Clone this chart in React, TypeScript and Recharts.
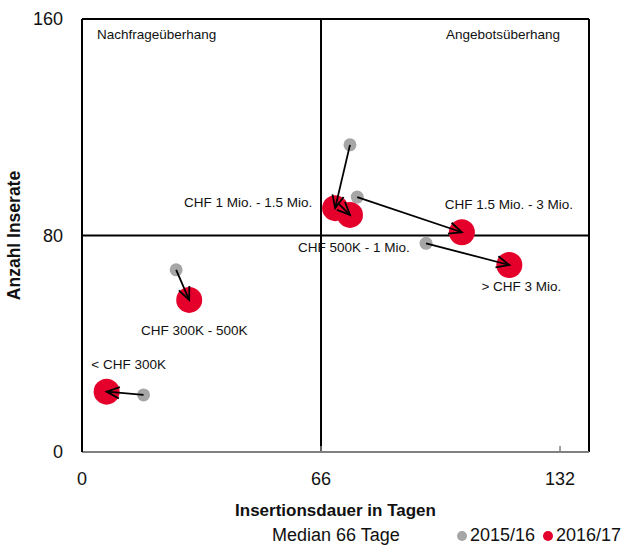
import React from 'react';
import {
  ScatterChart,
  Scatter,
  XAxis,
  YAxis,
  ReferenceLine,
  ReferenceArea,
  Legend,
} from 'recharts';

// Preisklassen
const kategorien = [
  '< CHF 300K',
  'CHF 300K - 500K',
  'CHF 500K - 1 Mio.',
  'CHF 1 Mio. - 1.5 Mio.',
  'CHF 1.5 Mio. - 3 Mio.',
  '> CHF 3 Mio.',
];

// 2015/16
const dauer1516 = [17.0, 26.0, 70.7, 74.0, 76.0, 95.0];
const inserate1516 = [21.1, 67.3, 92.0, 113.5, 94.2, 77.1];

// 2016/17
const dauer1617 = [6.8, 29.6, 74.0, 69.9, 104.9, 118.0];
const inserate1617 = [22.3, 56.2, 87.6, 90.1, 81.2, 69.1];

const medianDauer = 66;
const medianInserate = 80;
const xMax = 140;
const yMax = 160;
const xTicks = [0, 66, 132];
const yTicks = [0, 80, 160];

const GREY = '#A6A6A6';
const RED = '#E4002B';
const SANS = '"Liberation Sans", Arial, sans-serif';

// label offsets (px) relative to the 2016/17 marker
const labelOffset: Record<string, [number, number]> = {
  '< CHF 300K': [22, -27],
  'CHF 300K - 500K': [5, 31],
  'CHF 500K - 1 Mio.': [4, 33],
  'CHF 1 Mio. - 1.5 Mio.': [-87, -6],
  'CHF 1.5 Mio. - 3 Mio.': [47, -28],
  '> CHF 3 Mio.': [12, 22],
};

const data1516 = kategorien.map((name, i) => ({ name, x: dauer1516[i], y: inserate1516[i] }));
const data1617 = kategorien.map((name, i) => ({ name, x: dauer1617[i], y: inserate1617[i] }));
// one small series per category: from 2015/16 to 2016/17
const pfeile = kategorien.map((name, i) => [
  { name, x: dauer1516[i], y: inserate1516[i] },
  { name, x: dauer1617[i], y: inserate1617[i] },
]);

const GreyDot = (p: any) => <circle cx={p.cx} cy={p.cy} r={6.5} fill={GREY} />;

const RedDot = (p: any) => {
  const [dx, dy] = labelOffset[p.payload.name] || [0, 0];
  return (
    <g>
      <circle cx={p.cx} cy={p.cy} r={13} fill={RED} />
      <text
        x={p.cx + dx}
        y={p.cy + dy}
        textAnchor="middle"
        dominantBaseline="central"
        fontFamily={SANS}
        fontSize={13.5}
        fill="#111"
      >
        {p.payload.name}
      </text>
    </g>
  );
};

const NoDot = () => <g />;

const ArrowLine = (p: any) => {
  const pts = p.points;
  if (!pts || pts.length < 2) return <g />;
  const { x: x1, y: y1 } = pts[0];
  const { x: x2, y: y2 } = pts[1];
  const a = Math.atan2(y2 - y1, x2 - x1);
  const len = 14;
  const s = 0.42;
  const ax = x2 - len * Math.cos(a - s);
  const ay = y2 - len * Math.sin(a - s);
  const bx = x2 - len * Math.cos(a + s);
  const by = y2 - len * Math.sin(a + s);
  return (
    <g stroke="#000" strokeWidth={1.8} fill="none">
      <line x1={x1} y1={y1} x2={x2} y2={y2} />
      <polyline points={`${ax},${ay} ${x2},${y2} ${bx},${by}`} />
    </g>
  );
};

const QuadLabel = (side: 'left' | 'right', text: string) => (props: any) => {
  const vb = props.viewBox;
  if (!vb) return null;
  const x = side === 'left' ? vb.x + 15 : vb.x + vb.width - 29;
  return (
    <text
      x={x}
      y={vb.y + 20}
      textAnchor={side === 'left' ? 'start' : 'end'}
      fontFamily={SANS}
      fontSize={13.5}
      fill="#111"
    >
      {text}
    </text>
  );
};

const LegendContent = () => (
  <div style={{ position: 'relative', height: 22, fontFamily: SANS, fontSize: 18, color: '#111', lineHeight: '22px' }}>
    <span style={{ position: 'absolute', left: 272, top: 0, whiteSpace: 'nowrap' }}>Median 66 Tage</span>
    <span style={{ position: 'absolute', left: 457, top: 7, width: 10, height: 10, borderRadius: 5, background: GREY }} />
    <span style={{ position: 'absolute', left: 470, top: 0, whiteSpace: 'nowrap' }}>2015/16</span>
    <span style={{ position: 'absolute', left: 543, top: 7, width: 10, height: 10, borderRadius: 5, background: RED }} />
    <span style={{ position: 'absolute', left: 556, top: 0, whiteSpace: 'nowrap' }}>2016/17</span>
  </div>
);

export default function App() {
  return (
    <div style={{ position: 'absolute', left: 0, top: 0, width: 624, height: 547, background: '#fff' }}>
      <ScatterChart width={624} height={547} margin={{ top: 19, right: 35, bottom: 0, left: 0 }}>
        <XAxis
          type="number"
          dataKey="x"
          domain={[0, xMax]}
          ticks={xTicks}
          allowDataOverflow
          axisLine={{ stroke: '#808080', strokeWidth: 2 }}
          tickLine={{ stroke: '#808080', strokeWidth: 1.5 }}
          tickSize={-6}
          tickMargin={26}
          height={95}
          tick={{ fontFamily: SANS, fontSize: 18, fill: '#111' }}
          label={{
            content: (props: any) => {
              const vb = props.viewBox || { x: 82, width: 507, y: 452 };
              return (
                <text
                  x={vb.x + vb.width / 2}
                  y={vb.y + 64}
                  textAnchor="middle"
                  fontFamily={SANS}
                  fontWeight="bold"
                  fontSize={17}
                  fill="#111"
                >
                  Insertionsdauer in Tagen
                </text>
              );
            },
          }}
        />
        <YAxis
          type="number"
          dataKey="y"
          domain={[0, yMax]}
          ticks={yTicks}
          allowDataOverflow
          width={82}
          axisLine={{ stroke: '#000', strokeWidth: 2 }}
          tickLine={false}
          tickSize={0}
          tickMargin={19}
          tick={{ fontFamily: SANS, fontSize: 18, fill: '#111' }}
          label={{
            content: (props: any) => {
              const vb = props.viewBox || { y: 19, height: 433 };
              const cy = vb.y + vb.height / 2;
              return (
                <text
                  x={14}
                  y={cy}
                  transform={`rotate(-90, 14, ${cy})`}
                  textAnchor="middle"
                  dominantBaseline="central"
                  fontFamily={SANS}
                  fontWeight="bold"
                  fontSize={17.5}
                  fill="#111"
                >
                  Anzahl Inserate
                </text>
              );
            },
          }}
        />

        <ReferenceArea
          x1={0}
          x2={medianDauer}
          y1={medianInserate}
          y2={yMax}
          fill="none"
          stroke="none"
          label={{ content: QuadLabel('left', 'Nachfrageüberhang') }}
        />
        <ReferenceArea
          x1={medianDauer}
          x2={xMax}
          y1={medianInserate}
          y2={yMax}
          fill="none"
          stroke="none"
          label={{ content: QuadLabel('right', 'Angebotsüberhang') }}
        />

        {/* frame top / right */}
        <ReferenceLine y={yMax} stroke="#000" strokeWidth={2} />
        <ReferenceLine x={xMax} stroke="#000" strokeWidth={2} />

        <ReferenceLine x={medianDauer} stroke="#000" strokeWidth={2} />
        <ReferenceLine y={medianInserate} stroke="#000" strokeWidth={2} />

        <Scatter name="2015/16" data={data1516} fill={GREY} shape={GreyDot} isAnimationActive={false} />
        <Scatter name="2016/17" data={data1617} fill={RED} shape={RedDot} isAnimationActive={false} />

        {pfeile.map((d, i) => (
          <Scatter
            key={kategorien[i]}
            data={d}
            shape={NoDot}
            line={ArrowLine}
            legendType="none"
            isAnimationActive={false}
          />
        ))}

        <Legend
          verticalAlign="middle"
          align="center"
          layout="horizontal"
          wrapperStyle={{ left: 0, top: 524, width: 624, height: 22 }}
          content={LegendContent}
        />
      </ScatterChart>
    </div>
  );
}
